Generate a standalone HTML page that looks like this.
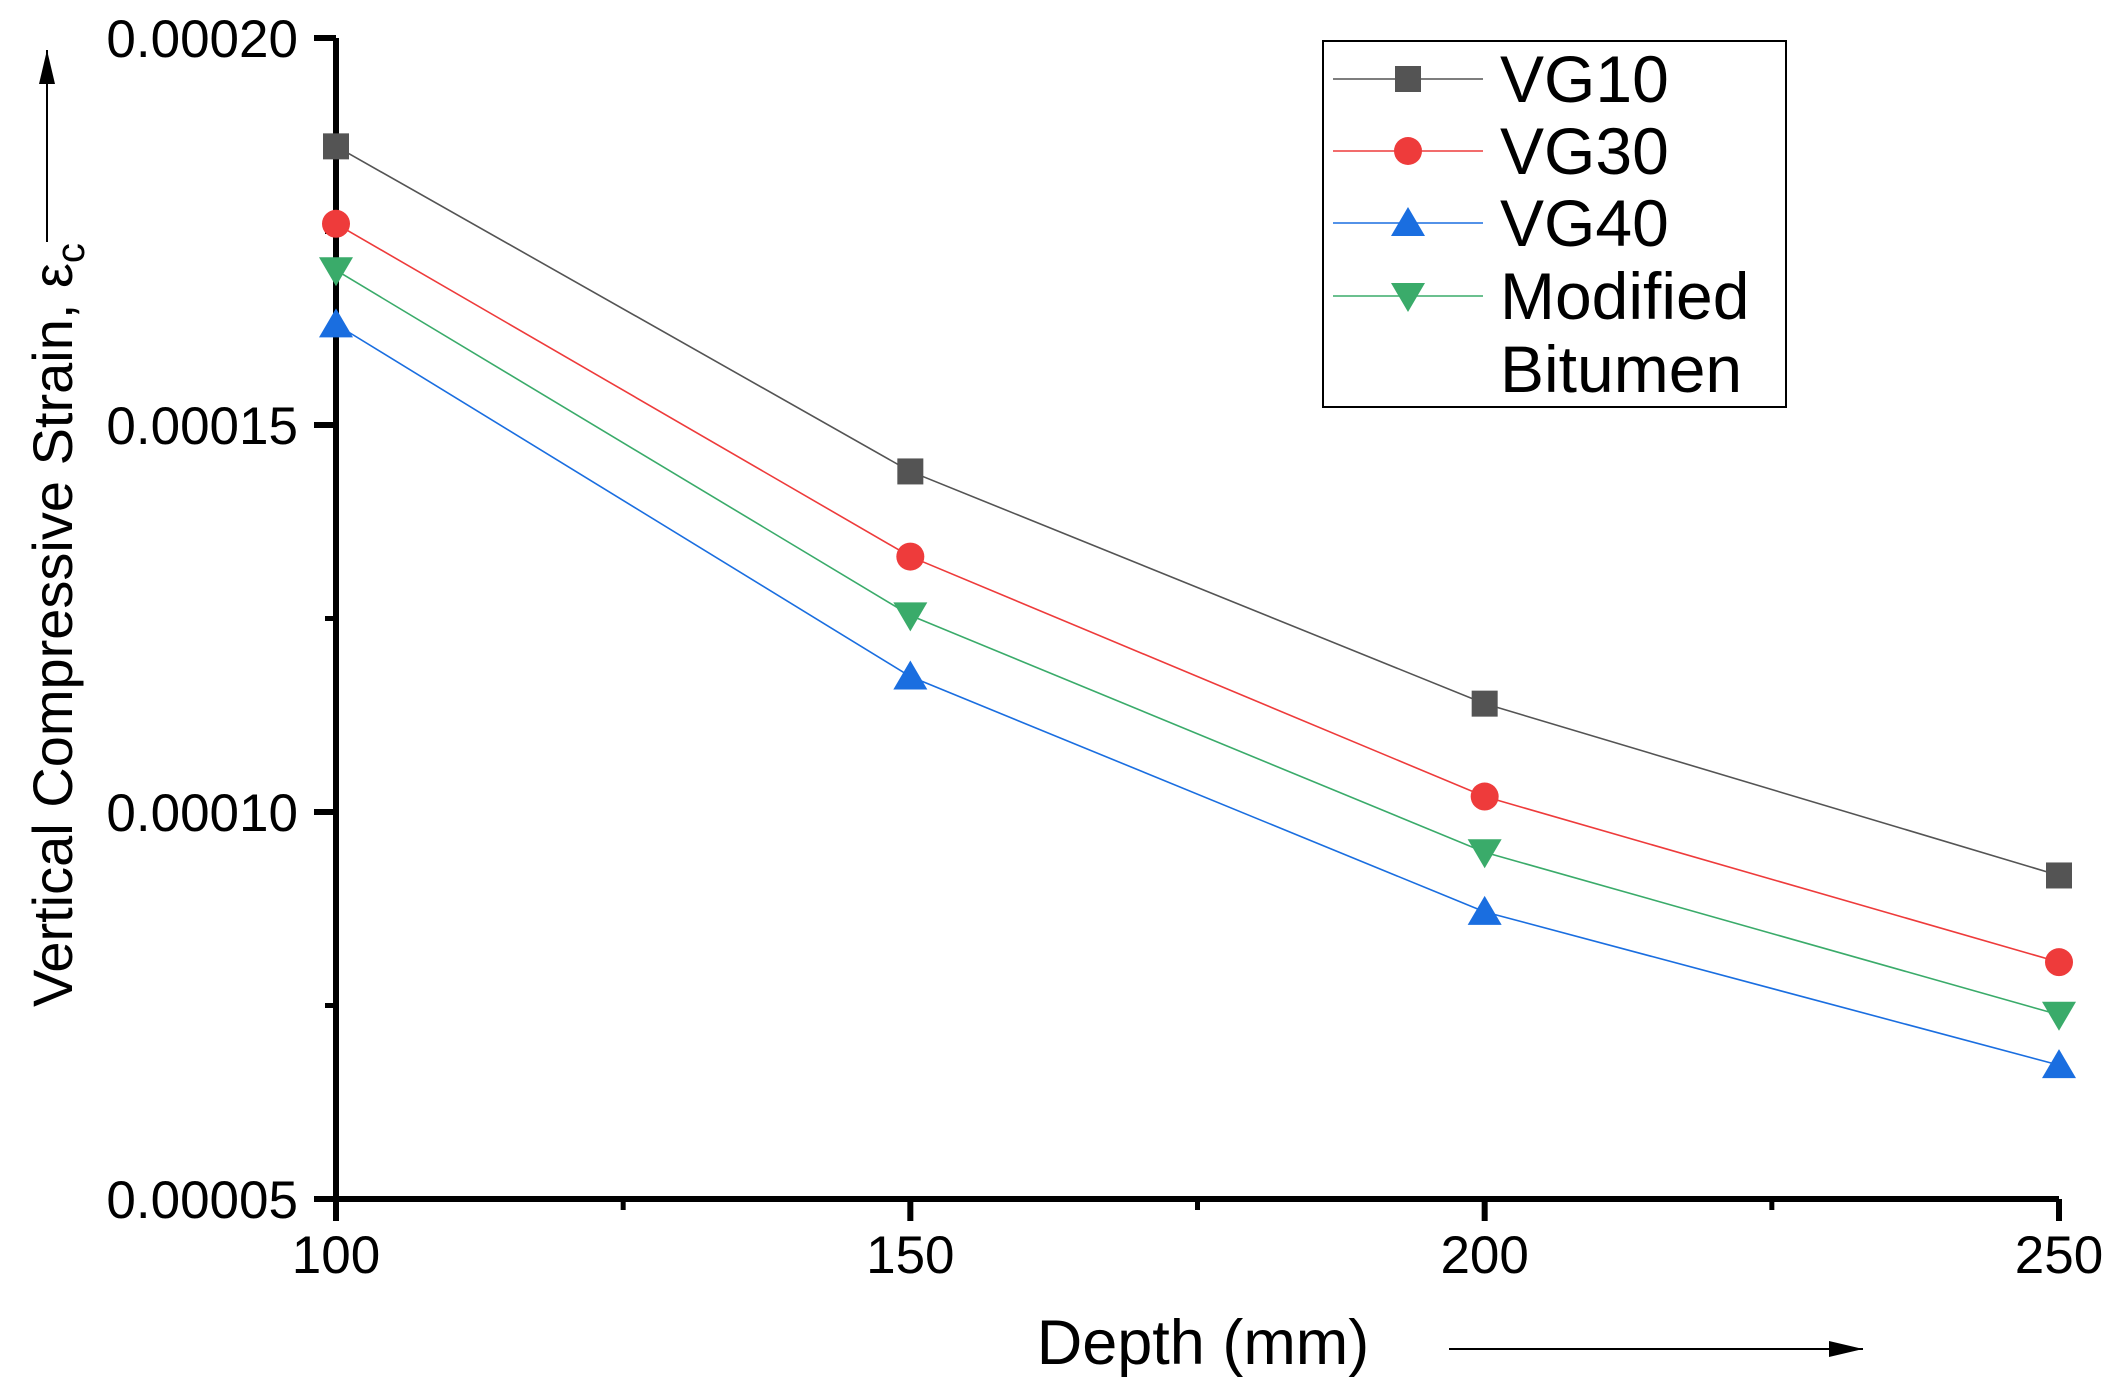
<!DOCTYPE html>
<html><head><meta charset="utf-8"><style>
html,body{margin:0;padding:0;background:#fff;width:2116px;height:1389px;overflow:hidden}
text{font-family:"Liberation Sans",Arial,sans-serif}
</style></head><body>
<svg id="chart" width="2116" height="1389" xmlns="http://www.w3.org/2000/svg">
<defs><marker id="ah" markerWidth="34" markerHeight="16" refX="34" refY="8" orient="auto" markerUnits="userSpaceOnUse" viewBox="0 0 34 16"><path d="M0,0L34,8L0,16z" fill="#000"/></marker></defs>
<g id="plot"></g>
</svg>
<script>
const depths=[100,150,200,250];
const vg10=[0.000186,0.000144,0.000114,0.0000918];
const vg30=[0.000176,0.000133,0.000102,0.0000806];
const vg40=[0.000163,0.0001175,0.0000871,0.0000673];
const modified=[0.00017,0.0001254,0.0000948,0.0000738];
const yTicks=[0.00005,0.0001,0.00015,0.0002];
const yTickLabels=["0.00005","0.00010","0.00015","0.00020"];
const xTicks=[100,150,200,250];
const NS="http://www.w3.org/2000/svg";
const X0=336,X1=2059,Y0=1199,Y1=38;
function sx(v){return X0+(v-100)/150*(X1-X0);}
function sy(v){return Y0-(v-0.00005)/0.00015*(Y0-Y1);}
const g=document.getElementById('plot');
function el(t,a,p){const e=document.createElementNS(NS,t);for(const k in a)e.setAttribute(k,a[k]);(p||g).appendChild(e);return e;}
let ax=el('path',{d:`M${X0},${Y1}V${Y0}H${X1}`,fill:'none',stroke:'#000','stroke-width':6});


yTicks.forEach((v,i)=>{
 const t=el('line',{x1:X0-22,x2:X0,y1:sy(v),y2:sy(v),stroke:'#000','stroke-width':6});
 
 
 const l=el('text',{x:X0-38,y:sy(v)+19,'font-size':53,'text-anchor':'end'});l.textContent=yTickLabels[i];
 
 
 if(i<yTicks.length-1){const m=el('line',{x1:X0-11,x2:X0,y1:sy(v+0.000025),y2:sy(v+0.000025),stroke:'#000','stroke-width':5});
 
 }
});
xTicks.forEach((v,i)=>{
 const t=el('line',{x1:sx(v),x2:sx(v),y1:Y0,y2:Y0+22,stroke:'#000','stroke-width':6});
 
 
 const l=el('text',{x:sx(v),y:Y0+74,'font-size':53,'text-anchor':'middle'});l.textContent=v;
 
 
 if(i<xTicks.length-1){const m=el('line',{x1:sx(v+25),x2:sx(v+25),y1:Y0,y2:Y0+11,stroke:'#000','stroke-width':5});
 
 }
});
let yt=el('text',{x:0,y:0,'font-size':56,'text-anchor':'middle',transform:'translate(72,625) rotate(-90)'});
yt.innerHTML='Vertical Compressive Strain, ε<tspan font-size="40" dy="12">c</tspan>';


let ya=el('line',{x1:47,x2:47,y1:242,y2:50,stroke:'#000','stroke-width':2,'marker-end':'url(#ah)'});


let xt=el('text',{x:1203,y:1364,'font-size':63,'text-anchor':'middle'});xt.textContent='Depth (mm)';


let xa=el('line',{x1:1449,x2:1863,y1:1349,y2:1349,stroke:'#000','stroke-width':2,'marker-end':'url(#ah)'});


function marker(kind,x,y,c,name){
 let m;
 if(kind==='sq')m=el('rect',{x:x-13,y:y-13,width:26,height:26,fill:c});
 else if(kind==='ci')m=el('circle',{cx:x,cy:y,r:14,fill:c});
 else if(kind==='up')m=el('path',{d:`M${x},${y-16}L${x+17},${y+13}L${x-17},${y+13}z`,fill:c});
 else m=el('path',{d:`M${x},${y+16}L${x+17},${y-13}L${x-17},${y-13}z`,fill:c});
 
 
}
const series=[
 {name:'vg10',vals:vg10,c:'#545454',m:'sq'},
 {name:'vg30',vals:vg30,c:'#ee3b3b',m:'ci'},
 {name:'vg40',vals:vg40,c:'#1a6ee0',m:'up'},
 {name:'modified',vals:modified,c:'#3aab6a',m:'dn'}];
series.forEach(s=>{
 const p=el('polyline',{points:s.vals.map((v,i)=>sx(depths[i])+','+sy(v)).join(' '),fill:'none',stroke:s.c,'stroke-width':1.6});
 
 
 s.vals.forEach((v,i)=>marker(s.m,sx(depths[i]),sy(v),s.c,s.name+'-point'));
});
let lb=el('rect',{x:1323,y:41,width:463,height:366,fill:'#fff',stroke:'#000','stroke-width':2});


const labels=['VG10','VG30','VG40','Modified'];
const rows=[79,151,223,296];
series.forEach((s,i)=>{
 const l=el('line',{x1:1333,x2:1483,y1:rows[i],y2:rows[i],stroke:s.c,'stroke-width':1.6});
 
 
 marker(s.m,1408,rows[i],s.c,'legend-marker');
 const t=el('text',{x:1500,y:rows[i]+23,'font-size':66});t.textContent=labels[i];
 
 
});
let bt=el('text',{x:1500,y:392,'font-size':66});bt.textContent='Bitumen';


</script>
</body></html>
